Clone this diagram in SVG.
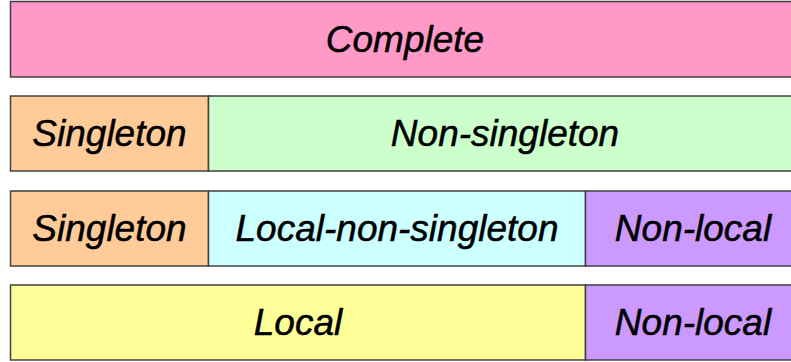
<svg xmlns="http://www.w3.org/2000/svg" width="791" height="362" viewBox="0 0 791 362">
  <style>
    .cell { stroke: #404040; stroke-width: 1.5; }
    .lbl { font-family: "Liberation Sans", Arial, sans-serif; font-style: italic; font-size: 37px; fill: #000; stroke: #000; stroke-width: 0.5; text-anchor: middle; }
    .pink { fill: #FF99C8; }
    .orange { fill: #FFCC99; }
    .green { fill: #CCFFCC; }
    .cyan { fill: #CCFFFF; }
    .purple { fill: #CC99FF; }
    .yellow { fill: #FFFF99; }
  </style>
  <rect width="791" height="362" fill="#ffffff"/>

  <!-- Row 1 -->
  <g id="complete">
    <rect class="cell pink" x="10.5" y="1.5" width="790" height="75.5"/>
    <text class="lbl" x="405" y="51.5">Complete</text>
  </g>

  <!-- Row 2 -->
  <g id="singleton-a">
    <rect class="cell orange" x="10.5" y="96" width="198" height="75"/>
    <text class="lbl" x="109.5" y="146">Singleton</text>
  </g>
  <g id="non-singleton">
    <rect class="cell green" x="208.5" y="96" width="592" height="75"/>
    <text class="lbl" x="505" y="146">Non-singleton</text>
  </g>

  <!-- Row 3 -->
  <g id="singleton-b">
    <rect class="cell orange" x="10.5" y="191" width="198" height="75"/>
    <text class="lbl" x="109.5" y="241">Singleton</text>
  </g>
  <g id="local-non-singleton">
    <rect class="cell cyan" x="208.5" y="191" width="377" height="75"/>
    <text class="lbl" x="397" y="241">Local-non-singleton</text>
  </g>
  <g id="non-local-a">
    <rect class="cell purple" x="585.5" y="191" width="215" height="75"/>
    <text class="lbl" x="693" y="241">Non-local</text>
  </g>

  <!-- Row 4 -->
  <g id="local">
    <rect class="cell yellow" x="10.5" y="285" width="575" height="75"/>
    <text class="lbl" x="298" y="335">Local</text>
  </g>
  <g id="non-local-b">
    <rect class="cell purple" x="585.5" y="285" width="215" height="75"/>
    <text class="lbl" x="693" y="335">Non-local</text>
  </g>

  <g id="connectors"/>
</svg>
